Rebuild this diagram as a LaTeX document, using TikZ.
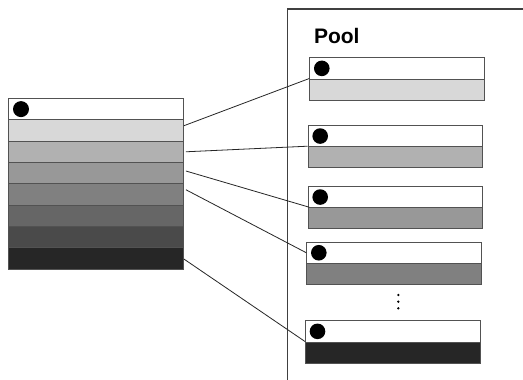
\documentclass[tikz,border=0pt]{standalone}
\usepackage{fontspec}
\setmainfont{Liberation Sans}
\begin{document}
\begin{tikzpicture}[x=1pt,y=-1pt,
  cell/.style={draw=black!68, line width=0.9pt, rectangle, anchor=north west, inner sep=0pt, minimum width=175pt, minimum height=21.33pt},
  pcell/.style={draw=black!68, line width=0.9pt, rectangle, anchor=north west, inner sep=0pt, minimum width=174.5pt, minimum height=21.2pt},
  knob/.style={fill=black},
  link/.style={draw=black!85, line width=0.8pt},
  frame/.style={draw=black!75, line width=1.1pt}
]
\definecolor{g1}{HTML}{D8D8D8}
\definecolor{g2}{HTML}{B1B1B1}
\definecolor{g3}{HTML}{989898}
\definecolor{g4}{HTML}{808080}
\definecolor{g5}{HTML}{666666}
\definecolor{g6}{HTML}{4A4A4A}
\definecolor{g7}{HTML}{262626}
\useasboundingbox (0,0) rectangle (523,380);
\fill[white] (0,0) rectangle (523,380);

% Pool frame
\coordinate (fb) at (287.3,380);
\coordinate (ft) at (287.3,9);
\coordinate (fr) at (523,9);
\draw[frame] (fb) -- (ft) -- (fr);
\node[font=\bfseries\fontsize{21}{25}\selectfont, anchor=base west, inner sep=0pt] (pool) at (313.8,43) {Pool};

% Left stack
\node[cell, fill=white] (L0) at (8,98) {};
\node[cell, fill=g1] (L1) at (8,119.33) {};
\node[cell, fill=g2] (L2) at (8,140.67) {};
\node[cell, fill=g3] (L3) at (8,162) {};
\node[cell, fill=g4] (L4) at (8,183.33) {};
\node[cell, fill=g5] (L5) at (8,204.67) {};
\node[cell, fill=g6] (L6) at (8,226) {};
\node[cell, fill=g7] (L7) at (8,247.33) {};
\fill[knob] ([xshift=13pt]L0.west) circle (8pt);

% Pool boxes
\node[pcell, fill=white] (P1a) at (309.3,57.3) {};
\node[pcell, fill=g1] (P1b) at (309.3,78.5) {};
\node[pcell, fill=white] (P2a) at (307.7,125) {};
\node[pcell, fill=g2] (P2b) at (307.7,146.2) {};
\node[pcell, fill=white] (P3a) at (307.7,186) {};
\node[pcell, fill=g3] (P3b) at (307.7,207.2) {};
\node[pcell, fill=white] (P4a) at (306.3,241.7) {};
\node[pcell, fill=g4] (P4b) at (306.3,262.9) {};
\node[pcell, fill=white] (P5a) at (305,320.3) {};
\node[pcell, fill=g7] (P5b) at (305,341.5) {};
\foreach \b in {P1a,P2a,P3a,P4a,P5a}
  \fill[knob] ([xshift=12.5pt]\b.west) circle (7.8pt);

% dots
\coordinate (d1) at (398.3,295);
\coordinate (d2) at (398.3,301.7);
\coordinate (d3) at (398.3,308.3);
\foreach \d in {d1,d2,d3} \fill[black] (\d) circle (1.3pt);

% connectors
\draw[link] ([yshift=-6.4pt]L1.north east) -- (P1b.north west);
\draw[link] ([xshift=2pt]L2.east) -- (P2b.north west);
\draw[link] ([xshift=2pt,yshift=-9pt]L3.north east) -- ([xshift=1.5pt]P3b.north west);
\draw[link] ([xshift=2pt,yshift=-6.4pt]L4.north east) -- (P4a.west);
\draw[link] ([yshift=-11.7pt]L7.north east) -- (P5b.north west);
\end{tikzpicture}
\end{document}
